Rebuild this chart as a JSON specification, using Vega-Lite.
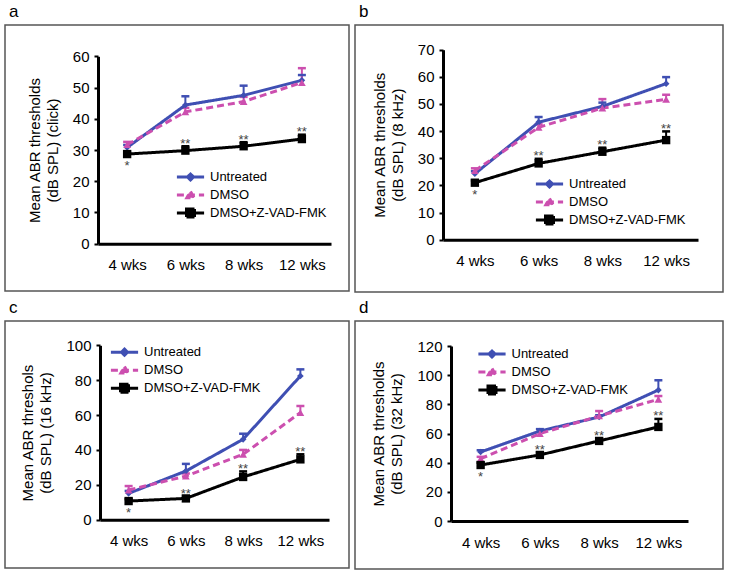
{
  "$schema": "https://vega.github.io/schema/vega-lite/v6.json",
  "padding": {"left": 4, "top": 2, "right": 0, "bottom": 0},
  "background": "white",
  "columns": 2,
  "spacing": {"row": 5, "column": 4},
  "datasets": {
    "abr": [
      {"panel": "a", "group": "Untreated", "week": "4 wks", "value": 30.8, "upper": 31.6},
      {"panel": "a", "group": "Untreated", "week": "6 wks", "value": 44.4, "upper": 47.2},
      {"panel": "a", "group": "Untreated", "week": "8 wks", "value": 47.5, "upper": 50.6},
      {"panel": "a", "group": "Untreated", "week": "12 wks", "value": 52.3, "upper": 54.0},
      {"panel": "a", "group": "DMSO", "week": "4 wks", "value": 31.7, "upper": 32.6},
      {"panel": "a", "group": "DMSO", "week": "6 wks", "value": 42.2, "upper": 43.5},
      {"panel": "a", "group": "DMSO", "week": "8 wks", "value": 45.5, "upper": 47.0},
      {"panel": "a", "group": "DMSO", "week": "12 wks", "value": 51.6, "upper": 56.2},
      {"panel": "a", "group": "DMSO+Z-VAD-FMK", "week": "4 wks", "value": 28.7, "upper": 29.4, "sig": "*"},
      {"panel": "a", "group": "DMSO+Z-VAD-FMK", "week": "6 wks", "value": 29.8, "upper": 31.2, "sig": "**"},
      {"panel": "a", "group": "DMSO+Z-VAD-FMK", "week": "8 wks", "value": 31.2, "upper": 32.5, "sig": "**"},
      {"panel": "a", "group": "DMSO+Z-VAD-FMK", "week": "12 wks", "value": 33.5, "upper": 34.9, "sig": "**"},

      {"panel": "b", "group": "Untreated", "week": "4 wks", "value": 24.3, "upper": 25.2},
      {"panel": "b", "group": "Untreated", "week": "6 wks", "value": 43.3, "upper": 45.2},
      {"panel": "b", "group": "Untreated", "week": "8 wks", "value": 49.1, "upper": 50.5},
      {"panel": "b", "group": "Untreated", "week": "12 wks", "value": 57.5, "upper": 59.9},
      {"panel": "b", "group": "DMSO", "week": "4 wks", "value": 25.4, "upper": 26.3},
      {"panel": "b", "group": "DMSO", "week": "6 wks", "value": 41.4, "upper": 42.5},
      {"panel": "b", "group": "DMSO", "week": "8 wks", "value": 48.5, "upper": 51.8},
      {"panel": "b", "group": "DMSO", "week": "12 wks", "value": 51.7, "upper": 53.4},
      {"panel": "b", "group": "DMSO+Z-VAD-FMK", "week": "4 wks", "value": 21.0, "upper": 21.8, "sig": "*"},
      {"panel": "b", "group": "DMSO+Z-VAD-FMK", "week": "6 wks", "value": 28.1, "upper": 29.8, "sig": "**"},
      {"panel": "b", "group": "DMSO+Z-VAD-FMK", "week": "8 wks", "value": 32.4, "upper": 33.9, "sig": "**"},
      {"panel": "b", "group": "DMSO+Z-VAD-FMK", "week": "12 wks", "value": 36.7, "upper": 39.9, "sig": "**"},

      {"panel": "c", "group": "Untreated", "week": "4 wks", "value": 15.1, "upper": 16.5},
      {"panel": "c", "group": "Untreated", "week": "6 wks", "value": 27.9, "upper": 32.0},
      {"panel": "c", "group": "Untreated", "week": "8 wks", "value": 46.1, "upper": 49.3},
      {"panel": "c", "group": "Untreated", "week": "12 wks", "value": 82.4, "upper": 86.2},
      {"panel": "c", "group": "DMSO", "week": "4 wks", "value": 17.0, "upper": 19.3},
      {"panel": "c", "group": "DMSO", "week": "6 wks", "value": 25.0, "upper": 26.5},
      {"panel": "c", "group": "DMSO", "week": "8 wks", "value": 37.5, "upper": 40.0},
      {"panel": "c", "group": "DMSO", "week": "12 wks", "value": 61.4, "upper": 65.2},
      {"panel": "c", "group": "DMSO+Z-VAD-FMK", "week": "4 wks", "value": 10.7, "upper": 11.8, "sig": "*"},
      {"panel": "c", "group": "DMSO+Z-VAD-FMK", "week": "6 wks", "value": 12.2, "upper": 13.3, "sig": "**"},
      {"panel": "c", "group": "DMSO+Z-VAD-FMK", "week": "8 wks", "value": 24.5, "upper": 27.7, "sig": "**"},
      {"panel": "c", "group": "DMSO+Z-VAD-FMK", "week": "12 wks", "value": 34.6, "upper": 37.5, "sig": "**"},

      {"panel": "d", "group": "Untreated", "week": "4 wks", "value": 47.3, "upper": 48.5},
      {"panel": "d", "group": "Untreated", "week": "6 wks", "value": 61.7, "upper": 63.0},
      {"panel": "d", "group": "Untreated", "week": "8 wks", "value": 71.3, "upper": 72.5},
      {"panel": "d", "group": "Untreated", "week": "12 wks", "value": 89.8, "upper": 96.5},
      {"panel": "d", "group": "DMSO", "week": "4 wks", "value": 42.7, "upper": 44.0},
      {"panel": "d", "group": "DMSO", "week": "6 wks", "value": 59.9, "upper": 61.0},
      {"panel": "d", "group": "DMSO", "week": "8 wks", "value": 72.0, "upper": 75.4},
      {"panel": "d", "group": "DMSO", "week": "12 wks", "value": 83.4, "upper": 85.7},
      {"panel": "d", "group": "DMSO+Z-VAD-FMK", "week": "4 wks", "value": 38.4, "upper": 40.0, "sig": "*"},
      {"panel": "d", "group": "DMSO+Z-VAD-FMK", "week": "6 wks", "value": 45.3, "upper": 47.0, "sig": "**"},
      {"panel": "d", "group": "DMSO+Z-VAD-FMK", "week": "8 wks", "value": 54.9, "upper": 56.5, "sig": "**"},
      {"panel": "d", "group": "DMSO+Z-VAD-FMK", "week": "12 wks", "value": 64.5, "upper": 70.0, "sig": "**"}
    ]
  },
  "resolve": {
    "scale": {"x": "independent", "y": "independent", "color": "independent", "stroke": "independent", "shape": "independent", "strokeDash": "independent"},
    "legend": {"color": "independent", "stroke": "independent", "shape": "independent", "strokeDash": "independent"}
  },
  "concat": [
    {
      "width": 344, "height": 266,
      "title": {"text": "a"},
      "data": {"name": "abr"},
      "transform": [{"filter": "datum.panel === 'a'"}],
      "encoding": {
        "x": {"field": "week", "type": "ordinal", "scale": {"type": "point", "domain": ["4 wks", "6 wks", "8 wks", "12 wks"], "range": [93, 326], "padding": 0.5}, "axis": {"offset": -47.3}},
        "y": {"field": "value", "type": "quantitative", "scale": {"domain": [0, 60], "range": [218.7, 31.3], "nice": false, "zero": true}, "axis": {"offset": -93, "values": [0, 10, 20, 30, 40, 50, 60], "title": ["Mean ABR thresholds", "(dB SPL) (click)"]}}
      },
      "layer": [
        {"mark": {"type": "rule", "strokeWidth": 2}, "encoding": {"y2": {"field": "upper"}, "color": {"field": "group", "type": "nominal", "scale": {"domain": ["Untreated", "DMSO", "DMSO+Z-VAD-FMK"], "range": ["#3f4fb3", "#cc4faf", "#000000"]}}}},
        {"mark": {"type": "tick", "size": 8, "thickness": 2.5, "opacity": 1}, "encoding": {"y": {"field": "upper", "type": "quantitative"}, "color": {"field": "group", "type": "nominal"}}},
        {"mark": {"type": "line", "strokeWidth": 3}, "encoding": {"color": {"field": "group", "type": "nominal"}, "strokeDash": {"field": "group", "type": "nominal", "scale": {"domain": ["Untreated", "DMSO", "DMSO+Z-VAD-FMK"], "range": [[1, 0], [7, 4], [1, 0]]}}}},
        {"transform": [{"filter": "datum.group === 'Untreated'"}], "mark": {"type": "point", "shape": "diamond", "filled": true, "opacity": 1, "size": 45, "color": "#3f4fb3"}},
        {"transform": [{"filter": "datum.group === 'DMSO'"}], "mark": {"type": "point", "shape": "triangle-up", "filled": true, "opacity": 1, "size": 60, "color": "#cc4faf"}},
        {"transform": [{"filter": "datum.group === 'DMSO+Z-VAD-FMK'"}], "mark": {"type": "point", "shape": "square", "filled": true, "opacity": 1, "size": 70, "color": "#000000"}},
        {"transform": [{"filter": "datum.sig === '**'"}], "mark": {"type": "text", "fontSize": 13, "color": "#444444", "baseline": "alphabetic", "dy": 1.5}, "encoding": {"y": {"field": "upper", "type": "quantitative"}, "text": {"field": "sig"}}},
        {"transform": [{"filter": "datum.sig === '*'"}], "mark": {"type": "text", "fontSize": 13, "color": "#444444", "baseline": "alphabetic", "dy": 16}, "encoding": {"text": {"field": "sig"}}},
        {"transform": [{"filter": "false"}], "mark": {"type": "point", "filled": true, "opacity": 1, "strokeWidth": 3},
         "encoding": {
           "color": {"field": "group", "type": "nominal", "legend": {"orient": "none", "legendX": 179, "legendY": 145.5, "title": null}},
           "stroke": {"field": "group", "type": "nominal", "scale": {"domain": ["Untreated", "DMSO", "DMSO+Z-VAD-FMK"], "range": ["#3f4fb3", "#cc4faf", "#000000"]}, "legend": {"orient": "none", "legendX": 179, "legendY": 145.5, "title": null}},
           "shape": {"field": "group", "type": "nominal", "scale": {"domain": ["Untreated", "DMSO", "DMSO+Z-VAD-FMK"], "range": ["M-3.4,0H3.4M0,-0.75L0.75,0L0,0.75L-0.75,0Z", "M-3.4,0H3.4M0,-0.9L0.9,0.7H-0.9Z", "M-3.4,0H3.4M-1,-1H1V1H-1Z"]}, "legend": {"orient": "none", "legendX": 179, "legendY": 145.5, "title": null}},
           "strokeDash": {"field": "group", "type": "nominal", "legend": {"orient": "none", "legendX": 179, "legendY": 145.5, "title": null}}
         }}
      ]
    },
    {
      "width": 368, "height": 267,
      "title": {"text": "b"},
      "data": {"name": "abr"},
      "transform": [{"filter": "datum.panel === 'b'"}],
      "encoding": {
        "x": {"field": "week", "type": "ordinal", "scale": {"type": "point", "domain": ["4 wks", "6 wks", "8 wks", "12 wks"], "range": [88, 343], "padding": 0.5}, "axis": {"offset": -52.3}},
        "y": {"field": "value", "type": "quantitative", "scale": {"domain": [0, 70], "range": [214.7, 24.7], "nice": false, "zero": true}, "axis": {"offset": -88, "values": [0, 10, 20, 30, 40, 50, 60, 70], "title": ["Mean ABR thresholds", "(dB SPL) (8 kHz)"]}}
      },
      "layer": [
        {"mark": {"type": "rule", "strokeWidth": 2}, "encoding": {"y2": {"field": "upper"}, "color": {"field": "group", "type": "nominal", "scale": {"domain": ["Untreated", "DMSO", "DMSO+Z-VAD-FMK"], "range": ["#3f4fb3", "#cc4faf", "#000000"]}}}},
        {"mark": {"type": "tick", "size": 8, "thickness": 2.5, "opacity": 1}, "encoding": {"y": {"field": "upper", "type": "quantitative"}, "color": {"field": "group", "type": "nominal"}}},
        {"mark": {"type": "line", "strokeWidth": 3}, "encoding": {"color": {"field": "group", "type": "nominal"}, "strokeDash": {"field": "group", "type": "nominal", "scale": {"domain": ["Untreated", "DMSO", "DMSO+Z-VAD-FMK"], "range": [[1, 0], [7, 4], [1, 0]]}}}},
        {"transform": [{"filter": "datum.group === 'Untreated'"}], "mark": {"type": "point", "shape": "diamond", "filled": true, "opacity": 1, "size": 45, "color": "#3f4fb3"}},
        {"transform": [{"filter": "datum.group === 'DMSO'"}], "mark": {"type": "point", "shape": "triangle-up", "filled": true, "opacity": 1, "size": 60, "color": "#cc4faf"}},
        {"transform": [{"filter": "datum.group === 'DMSO+Z-VAD-FMK'"}], "mark": {"type": "point", "shape": "square", "filled": true, "opacity": 1, "size": 70, "color": "#000000"}},
        {"transform": [{"filter": "datum.sig === '**'"}], "mark": {"type": "text", "fontSize": 13, "color": "#444444", "baseline": "alphabetic", "dy": 1.5}, "encoding": {"y": {"field": "upper", "type": "quantitative"}, "text": {"field": "sig"}}},
        {"transform": [{"filter": "datum.sig === '*'"}], "mark": {"type": "text", "fontSize": 13, "color": "#444444", "baseline": "alphabetic", "dy": 16}, "encoding": {"text": {"field": "sig"}}},
        {"transform": [{"filter": "false"}], "mark": {"type": "point", "filled": true, "opacity": 1, "strokeWidth": 3},
         "encoding": {
           "color": {"field": "group", "type": "nominal", "legend": {"orient": "none", "legendX": 188, "legendY": 152.5, "title": null}},
           "stroke": {"field": "group", "type": "nominal", "scale": {"domain": ["Untreated", "DMSO", "DMSO+Z-VAD-FMK"], "range": ["#3f4fb3", "#cc4faf", "#000000"]}, "legend": {"orient": "none", "legendX": 188, "legendY": 152.5, "title": null}},
           "shape": {"field": "group", "type": "nominal", "scale": {"domain": ["Untreated", "DMSO", "DMSO+Z-VAD-FMK"], "range": ["M-3.4,0H3.4M0,-0.75L0.75,0L0,0.75L-0.75,0Z", "M-3.4,0H3.4M0,-0.9L0.9,0.7H-0.9Z", "M-3.4,0H3.4M-1,-1H1V1H-1Z"]}, "legend": {"orient": "none", "legendX": 188, "legendY": 152.5, "title": null}},
           "strokeDash": {"field": "group", "type": "nominal", "legend": {"orient": "none", "legendX": 188, "legendY": 152.5, "title": null}}
         }}
      ]
    },
    {
      "width": 344, "height": 247,
      "title": {"text": "c"},
      "data": {"name": "abr"},
      "transform": [{"filter": "datum.panel === 'c'"}],
      "encoding": {
        "x": {"field": "week", "type": "ordinal", "scale": {"type": "point", "domain": ["4 wks", "6 wks", "8 wks", "12 wks"], "range": [95, 324], "padding": 0.5}, "axis": {"offset": -48.3}},
        "y": {"field": "value", "type": "quantitative", "scale": {"domain": [0, 100], "range": [198.7, 24.3], "nice": false, "zero": true}, "axis": {"offset": -95, "values": [0, 20, 40, 60, 80, 100], "title": ["Mean ABR threshols", "(dB SPL) (16 kHz)"]}}
      },
      "layer": [
        {"mark": {"type": "rule", "strokeWidth": 2}, "encoding": {"y2": {"field": "upper"}, "color": {"field": "group", "type": "nominal", "scale": {"domain": ["Untreated", "DMSO", "DMSO+Z-VAD-FMK"], "range": ["#3f4fb3", "#cc4faf", "#000000"]}}}},
        {"mark": {"type": "tick", "size": 8, "thickness": 2.5, "opacity": 1}, "encoding": {"y": {"field": "upper", "type": "quantitative"}, "color": {"field": "group", "type": "nominal"}}},
        {"mark": {"type": "line", "strokeWidth": 3}, "encoding": {"color": {"field": "group", "type": "nominal"}, "strokeDash": {"field": "group", "type": "nominal", "scale": {"domain": ["Untreated", "DMSO", "DMSO+Z-VAD-FMK"], "range": [[1, 0], [7, 4], [1, 0]]}}}},
        {"transform": [{"filter": "datum.group === 'Untreated'"}], "mark": {"type": "point", "shape": "diamond", "filled": true, "opacity": 1, "size": 45, "color": "#3f4fb3"}},
        {"transform": [{"filter": "datum.group === 'DMSO'"}], "mark": {"type": "point", "shape": "triangle-up", "filled": true, "opacity": 1, "size": 60, "color": "#cc4faf"}},
        {"transform": [{"filter": "datum.group === 'DMSO+Z-VAD-FMK'"}], "mark": {"type": "point", "shape": "square", "filled": true, "opacity": 1, "size": 70, "color": "#000000"}},
        {"transform": [{"filter": "datum.sig === '**'"}], "mark": {"type": "text", "fontSize": 13, "color": "#444444", "baseline": "alphabetic", "dy": 1.5}, "encoding": {"y": {"field": "upper", "type": "quantitative"}, "text": {"field": "sig"}}},
        {"transform": [{"filter": "datum.sig === '*'"}], "mark": {"type": "text", "fontSize": 13, "color": "#444444", "baseline": "alphabetic", "dy": 16}, "encoding": {"text": {"field": "sig"}}},
        {"transform": [{"filter": "false"}], "mark": {"type": "point", "filled": true, "opacity": 1, "strokeWidth": 3},
         "encoding": {
           "color": {"field": "group", "type": "nominal", "legend": {"orient": "none", "legendX": 113, "legendY": 24.7, "title": null}},
           "stroke": {"field": "group", "type": "nominal", "scale": {"domain": ["Untreated", "DMSO", "DMSO+Z-VAD-FMK"], "range": ["#3f4fb3", "#cc4faf", "#000000"]}, "legend": {"orient": "none", "legendX": 113, "legendY": 24.7, "title": null}},
           "shape": {"field": "group", "type": "nominal", "scale": {"domain": ["Untreated", "DMSO", "DMSO+Z-VAD-FMK"], "range": ["M-3.4,0H3.4M0,-0.75L0.75,0L0,0.75L-0.75,0Z", "M-3.4,0H3.4M0,-0.9L0.9,0.7H-0.9Z", "M-3.4,0H3.4M-1,-1H1V1H-1Z"]}, "legend": {"orient": "none", "legendX": 113, "legendY": 24.7, "title": null}},
           "strokeDash": {"field": "group", "type": "nominal", "legend": {"orient": "none", "legendX": 113, "legendY": 24.7, "title": null}}
         }}
      ]
    },
    {
      "width": 368, "height": 248,
      "title": {"text": "d"},
      "data": {"name": "abr"},
      "transform": [{"filter": "datum.panel === 'd'"}],
      "encoding": {
        "x": {"field": "week", "type": "ordinal", "scale": {"type": "point", "domain": ["4 wks", "6 wks", "8 wks", "12 wks"], "range": [96, 333], "padding": 0.5}, "axis": {"offset": -48}},
        "y": {"field": "value", "type": "quantitative", "scale": {"domain": [0, 120], "range": [200, 25], "nice": false, "zero": true}, "axis": {"offset": -96, "values": [0, 20, 40, 60, 80, 100, 120], "title": ["Mean ABR thresholds", "(dB SPL) (32 kHz)"]}}
      },
      "layer": [
        {"mark": {"type": "rule", "strokeWidth": 2}, "encoding": {"y2": {"field": "upper"}, "color": {"field": "group", "type": "nominal", "scale": {"domain": ["Untreated", "DMSO", "DMSO+Z-VAD-FMK"], "range": ["#3f4fb3", "#cc4faf", "#000000"]}}}},
        {"mark": {"type": "tick", "size": 8, "thickness": 2.5, "opacity": 1}, "encoding": {"y": {"field": "upper", "type": "quantitative"}, "color": {"field": "group", "type": "nominal"}}},
        {"mark": {"type": "line", "strokeWidth": 3}, "encoding": {"color": {"field": "group", "type": "nominal"}, "strokeDash": {"field": "group", "type": "nominal", "scale": {"domain": ["Untreated", "DMSO", "DMSO+Z-VAD-FMK"], "range": [[1, 0], [7, 4], [1, 0]]}}}},
        {"transform": [{"filter": "datum.group === 'Untreated'"}], "mark": {"type": "point", "shape": "diamond", "filled": true, "opacity": 1, "size": 45, "color": "#3f4fb3"}},
        {"transform": [{"filter": "datum.group === 'DMSO'"}], "mark": {"type": "point", "shape": "triangle-up", "filled": true, "opacity": 1, "size": 60, "color": "#cc4faf"}},
        {"transform": [{"filter": "datum.group === 'DMSO+Z-VAD-FMK'"}], "mark": {"type": "point", "shape": "square", "filled": true, "opacity": 1, "size": 70, "color": "#000000"}},
        {"transform": [{"filter": "datum.sig === '**'"}], "mark": {"type": "text", "fontSize": 13, "color": "#444444", "baseline": "alphabetic", "dy": 1.5}, "encoding": {"y": {"field": "upper", "type": "quantitative"}, "text": {"field": "sig"}}},
        {"transform": [{"filter": "datum.sig === '*'"}], "mark": {"type": "text", "fontSize": 13, "color": "#444444", "baseline": "alphabetic", "dy": 16}, "encoding": {"text": {"field": "sig"}}},
        {"transform": [{"filter": "false"}], "mark": {"type": "point", "filled": true, "opacity": 1, "strokeWidth": 3},
         "encoding": {
           "color": {"field": "group", "type": "nominal", "legend": {"orient": "none", "legendX": 130.5, "legendY": 26.5, "title": null}},
           "stroke": {"field": "group", "type": "nominal", "scale": {"domain": ["Untreated", "DMSO", "DMSO+Z-VAD-FMK"], "range": ["#3f4fb3", "#cc4faf", "#000000"]}, "legend": {"orient": "none", "legendX": 130.5, "legendY": 26.5, "title": null}},
           "shape": {"field": "group", "type": "nominal", "scale": {"domain": ["Untreated", "DMSO", "DMSO+Z-VAD-FMK"], "range": ["M-3.4,0H3.4M0,-0.75L0.75,0L0,0.75L-0.75,0Z", "M-3.4,0H3.4M0,-0.9L0.9,0.7H-0.9Z", "M-3.4,0H3.4M-1,-1H1V1H-1Z"]}, "legend": {"orient": "none", "legendX": 130.5, "legendY": 26.5, "title": null}},
           "strokeDash": {"field": "group", "type": "nominal", "legend": {"orient": "none", "legendX": 130.5, "legendY": 26.5, "title": null}}
         }}
      ]
    }
  ],
  "config": {
    "font": "Liberation Sans",
    "view": {"stroke": "#555555", "strokeWidth": 1.5},
    "axis": {"grid": false, "domainColor": "#000000", "domainWidth": 3, "labelFontSize": 15, "labelColor": "#000000", "titleFontSize": 15, "titleFontWeight": "normal", "titleColor": "#000000", "tickColor": "#000000", "tickWidth": 2, "tickSize": 4, "labelPadding": 5},
    "axisX": {"ticks": false, "tickSize": 0, "labelPadding": 14, "labelAngle": 0, "title": null},
    "axisY": {"titlePadding": 12, "titleLineHeight": 18},
    "title": {"fontSize": 17, "fontWeight": "normal", "anchor": "start", "offset": 4, "color": "#000000", "frame": "group", "dx": 4},
    "legend": {"labelFontSize": 13, "labelColor": "#000000", "symbolSize": 64, "symbolStrokeWidth": 3, "rowPadding": -2, "padding": 0, "labelOffset": 13}
  }
}
